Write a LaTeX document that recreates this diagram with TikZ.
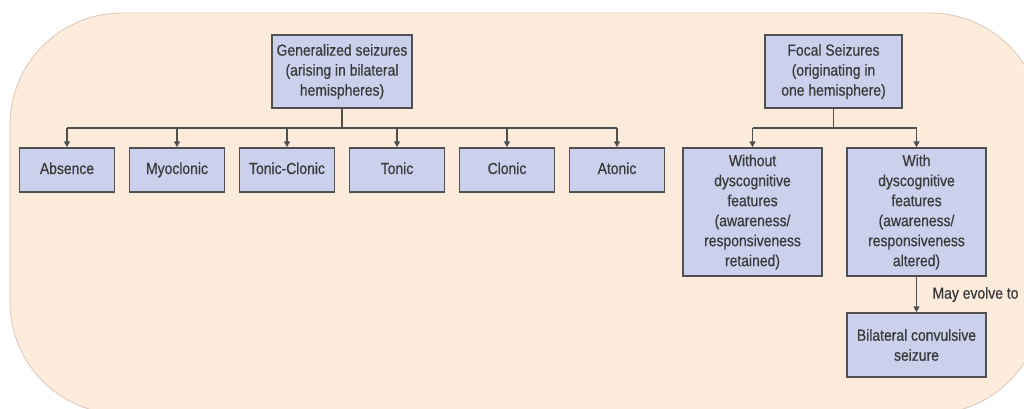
\documentclass[tikz,border=0pt]{standalone}
\usepackage{fontspec}
\setmainfont{Liberation Sans}[FakeStretch=0.87, FakeBold=0.6]
\usetikzlibrary{arrows.meta}
\definecolor{panel}{HTML}{FDEBDC}
\definecolor{panelline}{HTML}{DDCCBE}
\definecolor{boxfill}{HTML}{CBD1EC}
\definecolor{boxline}{HTML}{505050}
\definecolor{ink}{HTML}{3A3A3A}
\tikzset{
  box/.style={draw=boxline, fill=boxfill, line width=1.5pt, align=center,
    text=ink, inner sep=0pt, font=\fontsize{16}{20}\selectfont},
  rowbox/.style={box, minimum width=95pt, minimum height=44pt,
    text height=11.5pt, text depth=3.5pt},
  link/.style={draw=boxline, line width=1.5pt},
  arrowlink/.style={link, -{Triangle[length=6pt,width=6pt]}},
}
\begin{document}
\begin{tikzpicture}[x=1pt,y=-1pt]
\useasboundingbox (0,0) rectangle (1024,408);
% rounded backdrop panel, running past the right and bottom edges
\begin{scope}
\clip (0,0) rectangle (1024,408);
\draw[fill=panel, draw=panelline, line width=0.9pt, rounded corners=112pt]
  (10,13) rectangle (1042,414);
\end{scope}

% parent boxes
\node[box, minimum width=140pt, minimum height=73pt] (gen) at (342,71.5)
  {Generalized seizures\\(arising in bilateral\\hemispheres)};
\node[box, minimum width=137pt, minimum height=73pt] (foc) at (833.5,71.5)
  {Focal Seizures\\(originating in\\one hemisphere)};

% generalized seizure types
\foreach \name/\x/\txt in {abs/67/Absence, myo/177/Myoclonic, tcl/287/Tonic-Clonic,
    ton/397/Tonic, clo/507/Clonic, ato/617/Atonic}
  \node[rowbox] (\name) at (\x,170) {\txt};

% focal seizure types
\node[box, minimum width=139pt, minimum height=128pt] (wo) at (752.5,212)
  {Without\\dyscognitive\\features\\(awareness/\\responsiveness\\retained)};
\node[box, minimum width=139pt, minimum height=128pt] (wi) at (916.5,212)
  {With\\dyscognitive\\features\\(awareness/\\responsiveness\\altered)};
\node[box, minimum width=139pt, minimum height=64pt] (bil) at (916.5,345)
  {Bilateral convulsive\\seizure};

% tree connectors
\coordinate (gbus) at (342,128);
\draw[link] (gen.south) -- (gbus);
\draw[link] (abs.north |- gbus) -- (ato.north |- gbus);
\foreach \name in {abs,myo,tcl,ton,clo,ato}
  \draw[arrowlink] (\name.north |- gbus) -- (\name.north);

\coordinate (fbus) at (833.5,128);
\draw[link] (foc.south) -- (fbus);
\draw[link] (wo.north |- fbus) -- (wi.north |- fbus);
\foreach \name in {wo,wi}
  \draw[arrowlink] (\name.north |- fbus) -- (\name.north);

\draw[arrowlink] (wi.south) -- node[right=12pt, text=ink, font=\fontsize{16}{20}\selectfont] (evo) {May evolve to} (bil.north);
\end{tikzpicture}
\end{document}
